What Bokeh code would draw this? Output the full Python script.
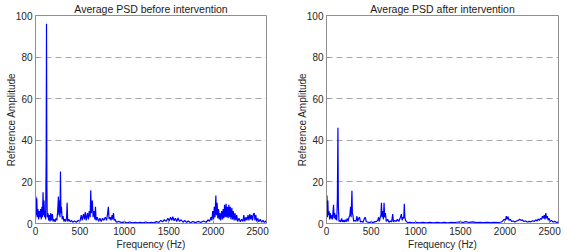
from bokeh.plotting import figure
from bokeh.layouts import row
from bokeh.models import FixedTicker
from bokeh.embed import file_html
from bokeh.resources import INLINE

# ---------------- data ----------------
titles = ["Average PSD before intervention", "Average PSD after intervention"]
x_label = "Frequency (Hz)"
y_label = "Reference Amplitude"
x_ticks = [0, 500, 1000, 1500, 2000, 2500]
y_ticks = [0, 20, 40, 60, 80, 100]

freq_before = [0, 5, 10, 15, 20, 28, 35, 42, 50, 58, 65, 72, 78, 85, 90, 96, 102, 108, 114, 120,
               124, 128, 132, 140, 148, 156, 164, 172, 180, 190, 198, 210, 220, 230, 240, 250, 258,
               264, 270, 276, 281, 286, 292, 300, 310, 320, 330, 340, 350, 356, 362, 375, 390, 405,
               420, 440, 460, 480, 500, 515, 525, 540, 550, 560, 570, 585, 595, 605, 615, 622, 628,
               640, 648, 660, 668, 675, 682, 695, 710, 725, 740, 755, 770, 785, 800, 812, 820, 828,
               840, 850, 862, 868, 878, 885, 895, 910, 940, 970, 1000, 1030, 1060, 1090, 1120, 1150,
               1180, 1210, 1240, 1270, 1300, 1330, 1360, 1390, 1410, 1430, 1450, 1470, 1490, 1505,
               1520, 1535, 1545, 1560, 1575, 1590, 1605, 1620, 1640, 1660, 1680, 1700, 1720, 1745,
               1770, 1800, 1830, 1860, 1890, 1920, 1945, 1960, 1975, 1985, 1995, 2005, 2012, 2020,
               2030, 2036, 2044, 2052, 2060, 2068, 2076, 2085, 2095, 2105, 2112, 2120, 2128, 2136,
               2145, 2152, 2160, 2168, 2176, 2184, 2192, 2200, 2210, 2218, 2226, 2235, 2245, 2255,
               2265, 2275, 2290, 2305, 2320, 2335, 2345, 2355, 2370, 2380, 2392, 2402, 2412, 2422,
               2432, 2442, 2452, 2462, 2470, 2480, 2490, 2500, 2515, 2530, 2545, 2560, 2575, 2590,
               2600]
amp_before = [2, 13, 4, 12, 3, 7, 2, 6, 3, 7, 2, 8, 3, 15, 4, 11, 3, 6, 2, 30,
              96, 20, 3, 5, 1.5, 4, 1, 5, 1.5, 4.5, 1, 2, 0.8, 2.5, 1.5, 6, 13,
              4, 11, 3, 25, 5, 8, 2, 3.5, 1, 2, 1, 3, 10, 1, 2, 0.8, 1.5,
              0.6, 1.2, 0.6, 1.5, 1, 4, 1.5, 4.5, 2, 5.5, 1.5, 5, 2, 6, 3, 16, 5,
              11, 3, 6, 2, 8, 1.5, 3, 1, 2.5, 1, 2.5, 1.5, 3, 1.5, 5, 8, 2,
              3, 1.5, 4, 2, 5, 1.5, 2, 0.6, 1, 0.4, 0.8, 0.3, 0.7, 0.3, 0.6, 0.3,
              0.6, 0.3, 0.7, 0.3, 0.6, 0.3, 0.9, 0.5, 1.5, 0.8, 1.8, 1, 2.5, 1.2,
              3, 1.5, 3.3, 1.3, 2.5, 1, 2.7, 1, 1.8, 0.6, 1.5, 0.5, 1.2, 0.4,
              1, 0.4, 1, 0.5, 1.2, 0.6, 1.8, 1, 3, 1.5, 6, 2, 8, 3,
              13.5, 4, 10, 2.5, 7, 2, 5, 1.5, 6, 2, 7, 2.5, 9, 3,
              9.5, 3, 8, 2.5, 9, 3, 8, 2, 7.5, 2, 6, 1.5, 5, 1.5,
              4, 1, 2.5, 0.8, 2, 1, 4, 1, 3, 1.5, 4, 1.5, 4.5, 2,
              4, 1.5, 4.5, 5, 1.5, 4, 1, 2.5, 0.8, 2, 0.6, 1.5, 0.5, 1.2,
              0.5]

freq_after = [0, 5, 10, 15, 20, 28, 35, 42, 50, 58, 65, 72, 79, 85, 92, 100, 108, 115, 122, 128,
              133, 140, 150, 160, 170, 180, 190, 200, 210, 220, 232, 242, 252, 262, 270, 276, 285,
              290, 296, 305, 318, 330, 341, 350, 360, 371, 380, 395, 410, 425, 435, 445, 460, 480,
              500, 520, 540, 560, 575, 584, 592, 602, 610, 616, 622, 630, 638, 645, 652, 660, 670,
              685, 700, 715, 730, 742, 750, 765, 780, 795, 810, 825, 839, 848, 858, 866, 872, 878,
              886, 895, 910, 940, 970, 1000, 1040, 1080, 1120, 1160, 1200, 1240, 1280, 1320, 1360,
              1400, 1430, 1460, 1500, 1530, 1560, 1600, 1640, 1680, 1720, 1760, 1800, 1840, 1880,
              1920, 1950, 1970, 1990, 2005, 2015, 2025, 2035, 2045, 2060, 2075, 2090, 2110, 2130,
              2150, 2165, 2180, 2195, 2210, 2230, 2250, 2270, 2290, 2310, 2330, 2345, 2360, 2372,
              2385, 2400, 2410, 2420, 2430, 2440, 2448, 2458, 2466, 2475, 2485, 2495, 2505, 2520,
              2540, 2560, 2580, 2600]
amp_after = [3, 13.5, 3, 11, 4, 6, 2, 5, 2.5, 4, 2, 5, 9, 2.5, 5, 2, 4, 1.5, 12, 46,
             8, 1, 1.5, 0.8, 2.5, 0.8, 1.5, 0.7, 1.8, 0.8, 2.5, 1, 3, 4, 8, 3, 15.7,
             5, 4, 1, 1.5, 1, 3.5, 1, 2.5, 3, 0.8, 1, 0.6, 2.5, 3, 1, 0.7, 0.5,
             0.8, 0.4, 0.8, 1, 1.5, 3, 1, 3, 4, 10, 3, 6, 2, 10, 3, 5, 1,
             2, 0.6, 1.2, 0.8, 4.5, 0.8, 1.5, 1, 2, 1, 2.5, 4.5, 1.5, 3, 2.5, 9.5, 3,
             1.5, 1, 0.4, 0.6, 0.3, 0.5, 0.3, 0.5, 0.3, 0.5, 0.3, 0.5, 0.3, 0.5, 0.3,
             0.5, 0.4, 0.6, 0.8, 0.5, 0.9, 0.5, 0.8, 0.4, 0.6, 0.4, 0.6, 0.4, 0.6,
             0.4, 0.6, 1, 2, 1.5, 3.5, 2, 3.3, 1.5, 2, 1, 1.2, 0.7, 1.2,
             1.5, 2, 1.5, 1.8, 1, 1.2, 0.7, 1, 0.8, 1.3, 1, 1.8, 1.2, 2.2,
             1.5, 2.5, 2, 3.5, 2.5, 4, 2, 5, 2.5, 3.5, 1.5, 2.5, 1, 1.5,
             0.7, 1, 0.5, 0.8]

series = [(freq_before, amp_before), (freq_after, amp_after)]

FONT = "Liberation Sans"
AX = "#8f8f8f"
TXT = "#262626"


def make_panel(title, xs, ys, width, left, right):
    p = figure(width=width, height=252, x_range=(0, 2600), y_range=(0, 100),
               output_backend="svg", toolbar_location=None, title=title,
               min_border_left=left, min_border_right=right,
               min_border_top=14, min_border_bottom=28)
    p.title.align = "center"
    p.title.text_font = FONT
    p.title.text_font_size = "10.5px"
    p.title.text_font_style = "normal"
    p.title.text_color = "#1a1a1a"
    p.title.standoff = 1
    p.title.offset = 0
    p.background_fill_color = "white"
    p.border_fill_color = "white"
    p.outline_line_color = AX
    p.outline_line_width = 1

    p.line(xs, ys, line_color="#0000ff", line_width=1.2)

    p.xaxis.ticker = FixedTicker(ticks=x_ticks)
    p.yaxis.ticker = FixedTicker(ticks=y_ticks)
    for ax in (p.xaxis[0], p.yaxis[0]):
        ax.axis_line_color = AX
        ax.major_tick_line_color = AX
        ax.major_tick_in = 3
        ax.major_tick_out = 0
        ax.minor_tick_line_color = None
        ax.major_label_text_font = FONT
        ax.major_label_text_font_size = "10px"
        ax.major_label_text_color = TXT
        ax.axis_label_text_font = FONT
        ax.axis_label_text_font_size = "10px"
        ax.axis_label_text_font_style = "normal"
        ax.axis_label_text_color = TXT
    p.xaxis.axis_label = x_label
    p.yaxis.axis_label = y_label
    p.xaxis.major_label_standoff = 3
    p.xaxis.axis_label_standoff = 1
    p.yaxis.major_label_standoff = 3
    p.yaxis.axis_label_standoff = -4

    p.xgrid.visible = False
    p.ygrid.grid_line_color = "#a8a8a8"
    p.ygrid.grid_line_dash = "6 4"
    p.ygrid.grid_line_width = 1
    return p


p1 = make_panel(titles[0], series[0][0], series[0][1], 283, 35, 17)
p2 = make_panel(titles[1], series[1][0], series[1][1], 284, 43, 9)
p = row(p1, p2)

open("out.html", "w").write(file_html(p, INLINE))
